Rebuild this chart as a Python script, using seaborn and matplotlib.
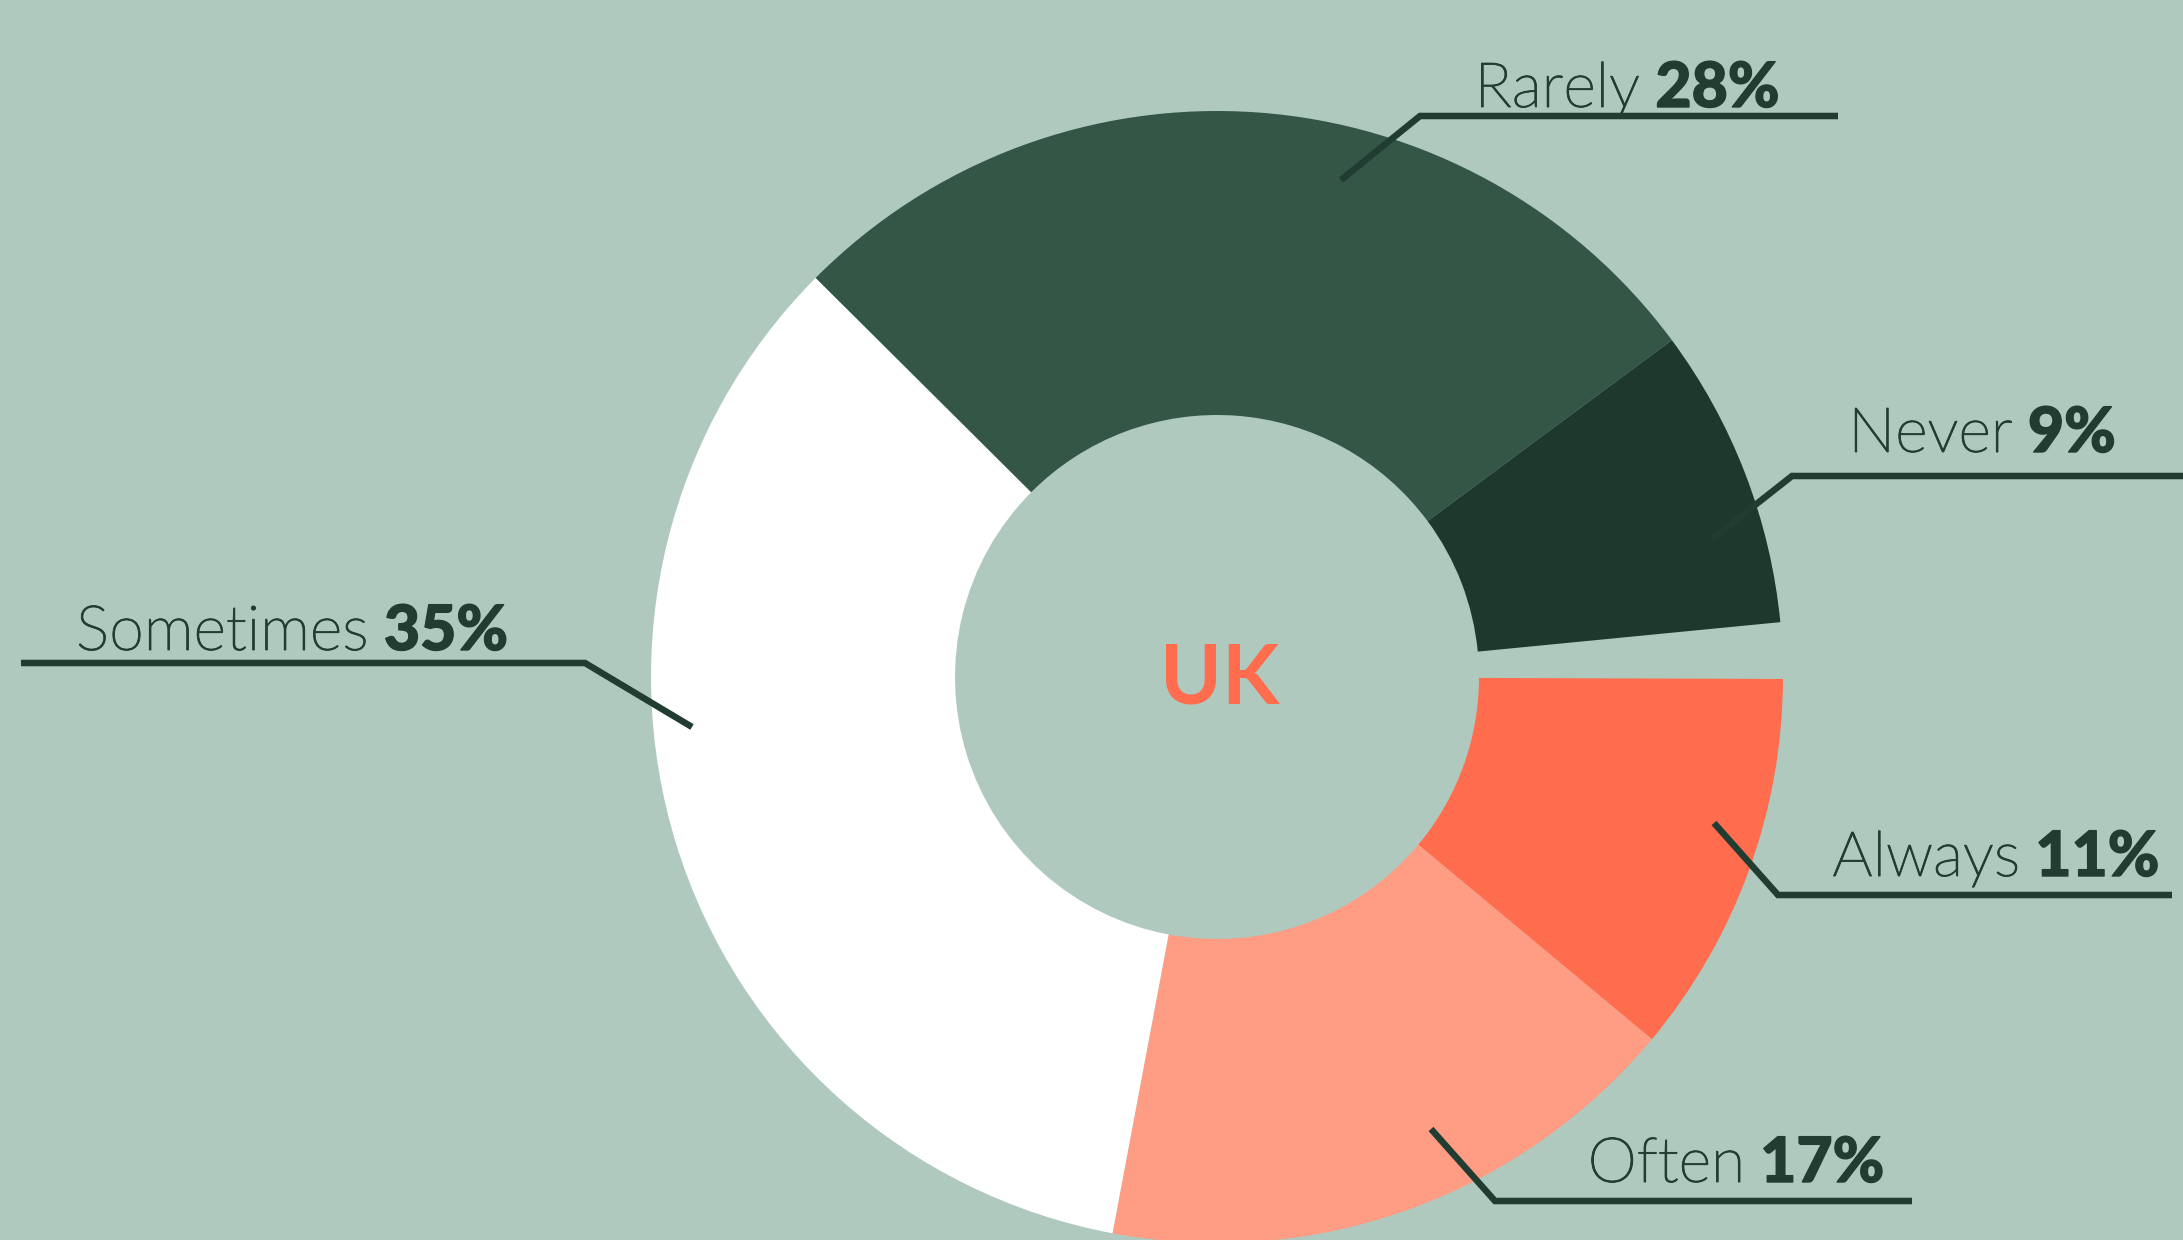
import os
import matplotlib
matplotlib.use('Agg')
import matplotlib.pyplot as plt
import matplotlib.font_manager as fm
import matplotlib.patheffects as pe
import seaborn as sns

# Data (arc share of the full circle, printed label)
categories = ['Always', 'Often', 'Sometimes', 'Rarely', 'Never']
shares = [0.110, 0.169, 0.345, 0.274, 0.086]
pct_labels = ['11%', '17%', '35%', '28%', '9%']
colors = ['#ff6c4e', '#ff9c84', '#ffffff', '#335646', '#1e382d']

bg = '#afc9be'
ink = '#213d31'

sns.set_theme(style='white')
plt.rcParams['font.family'] = ['Lato', 'DejaVu Sans']


def pick_font(family, key, weight, size):
    # prefer the exact style file, fall back to weight matching
    for f in fm.fontManager.ttflist:
        base = os.path.basename(f.fname)
        if f.name == family and key in base and 'Italic' not in base:
            return fm.FontProperties(fname=f.fname, size=size)
    return fm.FontProperties(family=family, weight=weight, size=size)


word_font = pick_font('Lato', 'Light', 'light', 45)
pct_font = pick_font('Lato', 'Black', 'black', 45)

W, H = 2183, 1240
fig = plt.figure(figsize=(W / 100, H / 100), dpi=100, facecolor=bg)
ax = fig.add_axes([0, 0, 1, 1])
ax.set_facecolor(bg)

cx, cy = 1217, H - 677
r_out, r_in = 566, 262
ax.pie(shares, colors=colors, startangle=-0.2, counterclock=False,
       normalize=False, radius=r_out, center=(cx, cy),
       wedgeprops=dict(width=r_out - r_in, linewidth=0))

ax.set_xlim(0, W)
ax.set_ylim(0, H)
ax.set_aspect('equal')
ax.axis('off')

ax.text(1220, H - 704, 'UK', ha='center', va='baseline', fontsize=60,
        fontweight='bold', color='#ff6c4e')

# leader lines (pixel layout, y measured from top) and label block centre/baseline
leaders = {
    'Rarely': [(1341, 180), (1420, 116), (1838, 116)],
    'Never': [(1712, 539), (1792, 476), (2190, 476)],
    'Sometimes': [(21, 663), (585, 663), (692, 727)],
    'Always': [(1714, 823), (1778, 895), (2172, 895)],
    'Often': [(1431, 1129), (1495, 1201), (1912, 1201)],
}
text_pos = {
    'Rarely': (1627, 107),
    'Never': (1982, 452),
    'Sometimes': (292, 650),
    'Always': (1996, 876),
    'Often': (1736, 1182),
}
gap = 15
thin = [pe.withStroke(linewidth=0.6, foreground=ink)]
heavy = [pe.withStroke(linewidth=1.0, foreground=ink)]

fig.canvas.draw()
renderer = fig.canvas.get_renderer()

for name, pct in zip(categories, pct_labels):
    pts = leaders[name]
    ax.plot([p[0] for p in pts], [H - p[1] for p in pts], color=ink,
            lw=4.7, solid_capstyle='butt', solid_joinstyle='miter', zorder=5)
    xc, yb = text_pos[name]
    t1 = ax.text(0, H - yb, name, ha='left', va='baseline',
                 fontproperties=word_font, color=ink, zorder=6, path_effects=thin)
    t2 = ax.text(0, H - yb, pct, ha='left', va='baseline',
                 fontproperties=pct_font, color=ink, zorder=6, path_effects=heavy)
    w1 = t1.get_window_extent(renderer=renderer).width
    w2 = t2.get_window_extent(renderer=renderer).width
    x0 = xc - (w1 + gap + w2) / 2
    t1.set_x(x0)
    t2.set_x(x0 + w1 + gap)

fig.savefig('out.png', dpi=100, facecolor=bg)
